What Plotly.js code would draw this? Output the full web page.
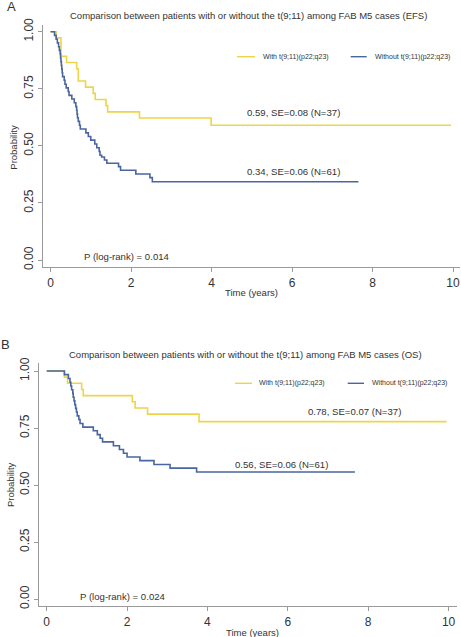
<!DOCTYPE html>
<html>
<head>
<meta charset="utf-8">
<script src="https://cdn.plot.ly/plotly-3.0.1.min.js"></script>
<style>
html,body{margin:0;padding:0;background:#fff;}
#chart{width:461px;height:637px;}
</style>
</head>
<body>
<div id="chart"></div>
<script>
// ---- Data ----
// Panel A: EFS
var efsWithTime   = [0, 0.14, 0.26, 0.40, 0.65, 0.69, 0.87, 1.06, 1.11, 1.38, 1.42, 2.21, 3.99, 9.95];
var efsWithSurv   = [1, 0.973, 0.892, 0.865, 0.838, 0.784, 0.757, 0.730, 0.703, 0.676, 0.649, 0.622, 0.59, 0.59];
var efsWithoutTime = [0, 0.10, 0.14, 0.17, 0.20, 0.22, 0.24, 0.25, 0.26, 0.27, 0.28, 0.29, 0.30, 0.34, 0.36, 0.39, 0.44, 0.46, 0.53, 0.59, 0.63, 0.65, 0.66, 0.67, 0.69, 0.72, 0.74, 0.88, 0.94, 1.00, 1.10, 1.15, 1.21, 1.23, 1.27, 1.34, 1.40, 1.69, 1.74, 2.12, 2.47, 2.53, 7.65];
var efsWithoutSurv = [1, 0.984, 0.967, 0.951, 0.934, 0.918, 0.902, 0.885, 0.869, 0.852, 0.836, 0.820, 0.803, 0.787, 0.770, 0.754, 0.738, 0.721, 0.705, 0.689, 0.672, 0.656, 0.639, 0.623, 0.607, 0.590, 0.574, 0.557, 0.541, 0.525, 0.508, 0.492, 0.475, 0.459, 0.451, 0.438, 0.424, 0.409, 0.393, 0.377, 0.361, 0.343, 0.343];
// Panel B: OS
var osWithTime   = [0, 0.44, 0.52, 0.87, 0.91, 2.13, 2.20, 2.51, 3.79, 9.95];
var osWithSurv   = [1, 0.973, 0.946, 0.919, 0.892, 0.865, 0.838, 0.811, 0.778, 0.778];
var osWithoutTime = [0, 0.44, 0.54, 0.58, 0.60, 0.62, 0.65, 0.66, 0.68, 0.70, 0.72, 0.74, 0.76, 0.80, 0.83, 0.90, 1.16, 1.26, 1.33, 1.39, 1.66, 1.81, 1.91, 2.00, 2.32, 2.67, 3.07, 3.73, 7.67];
var osWithoutSurv = [1, 0.984, 0.967, 0.951, 0.934, 0.918, 0.902, 0.885, 0.869, 0.852, 0.836, 0.820, 0.803, 0.787, 0.770, 0.754, 0.738, 0.721, 0.705, 0.689, 0.672, 0.656, 0.639, 0.623, 0.607, 0.590, 0.574, 0.557, 0.557];

var seriesNames = ['With t(9;11)(p22;q23)', 'Without t(9;11)(p22;q23)'];
var xTickVals = [0, 2, 4, 6, 8, 10];
var yTickVals = [0, 0.25, 0.5, 0.75, 1];
var yTickText = ['0.00', '0.25', '0.50', '0.75', '1.00'];
var titleA = 'Comparison between patients with or without the t(9;11) among FAB M5 cases (EFS)';
var titleB = 'Comparison between patients with or without the t(9;11) among FAB M5 cases (OS)';
var noteA = ['0.59, SE=0.08 (N=37)', '0.34, SE=0.06 (N=61)', 'P (log-rank) = 0.014'];
var noteB = ['0.78, SE=0.07 (N=37)', '0.56, SE=0.06 (N=61)', 'P (log-rank) = 0.024'];

// ---- Styling ----
var W = 461, H = 637;
var YEL = '#EDD54A', BLU = '#4A66A0', AX = '#9a9a9a', TXT = '#333333';
var FONT = 'Liberation Sans, Arial, sans-serif';
function px(x){ return x / W; }
function py(y){ return 1 - y / H; }

function trace(t, s, color, xa, ya){
  return {x: t, y: s, type: 'scatter', mode: 'lines', line: {shape: 'hv', color: color, width: 1.6},
          xaxis: xa, yaxis: ya, hoverinfo: 'skip', showlegend: false};
}
var data = [
  trace(efsWithTime, efsWithSurv, YEL, 'x', 'y'),
  trace(efsWithoutTime, efsWithoutSurv, BLU, 'x', 'y'),
  trace(osWithTime, osWithSurv, YEL, 'x2', 'y2'),
  trace(osWithoutTime, osWithoutSurv, BLU, 'x2', 'y2')
];

function xax(domain, range, anchor){
  return {domain: domain, range: range, anchor: anchor, tickvals: xTickVals, ticks: 'outside', ticklen: 4,
          tickwidth: 1, tickcolor: AX, showline: true, linecolor: AX, linewidth: 1.4, showgrid: false,
          zeroline: false, tickfont: {family: FONT, size: 12, color: TXT}, fixedrange: true};
}
function yax(domain, range, anchor){
  return {domain: domain, range: range, anchor: anchor, tickvals: yTickVals, ticktext: yTickText, tickangle: -90,
          ticks: 'outside', ticklen: 4, tickwidth: 1, tickcolor: AX, showline: true, linecolor: AX, linewidth: 1.4,
          showgrid: false, zeroline: false, tickfont: {family: FONT, size: 12, color: TXT}, fixedrange: true};
}

function ann(text, x, y, size, xanchor, extra){
  var a = {text: text, x: px(x), y: py(y), xref: 'paper', yref: 'paper', showarrow: false,
           xanchor: xanchor || 'center', yanchor: 'middle', font: {family: FONT, size: size, color: TXT}};
  if (extra) for (var k in extra) a[k] = extra[k];
  return a;
}
function legLine(x0, x1, y, color){
  return {type: 'line', xref: 'paper', yref: 'paper', x0: px(x0), x1: px(x1), y0: py(y), y1: py(y),
          line: {color: color, width: 1.4}};
}

var annotations = [
  ann('A', 11.5, 7, 13, 'center'),
  ann(titleA, 249, 15, 9.5, 'center'),
  ann(seriesNames[0], 261, 56.7, 7, 'left'),
  ann(seriesNames[1], 373, 56.7, 7, 'left'),
  ann(noteA[0], 293, 112.7, 9.6, 'center'),
  ann(noteA[1], 293, 171, 9.6, 'center'),
  ann(noteA[2], 81.5, 256.7, 9.6, 'left'),
  ann('Time (years)', 251, 292, 9.5, 'center'),
  ann('Probability', 12.7, 147, 9.5, 'center', {textangle: -90}),

  ann('B', 5.5, 344, 13, 'center'),
  ann(titleB, 246, 354.3, 9.5, 'center'),
  ann(seriesNames[0], 257, 383.3, 7, 'left'),
  ann(seriesNames[1], 370, 383.3, 7, 'left'),
  ann(noteB[0], 354.7, 411.7, 9.6, 'center'),
  ann(noteB[1], 281.7, 464, 9.6, 'center'),
  ann(noteB[2], 78, 596, 9.6, 'left'),
  ann('Time (years)', 252.5, 632, 9.5, 'center'),
  ann('Probability', 10, 485, 9.5, 'center', {textangle: -90})
];

var shapes = [
  legLine(237, 255, 56.7, YEL), legLine(350.7, 366.7, 56.7, BLU),
  legLine(235, 252, 383.3, YEL), legLine(347.7, 364, 383.3, BLU)
];

var layout = {
  width: W, height: H, margin: {l: 0, r: 0, t: 0, b: 0},
  paper_bgcolor: '#fff', plot_bgcolor: '#fff', showlegend: false,
  font: {family: FONT, color: TXT},
  xaxis: xax([px(43.3), px(460)], [-0.179, 10.174], 'y'),
  yaxis: yax([py(266.7), py(25)], [-0.0293, 1.0293], 'x'),
  xaxis2: xax([px(39.3), px(457)], [-0.184, 10.21], 'y2'),
  yaxis2: yax([py(606), py(363.3)], [-0.0307, 1.0338], 'x2'),
  annotations: annotations, shapes: shapes
};

Plotly.newPlot('chart', data, layout, {displayModeBar: false, staticPlot: true});
</script>
</body>
</html>
